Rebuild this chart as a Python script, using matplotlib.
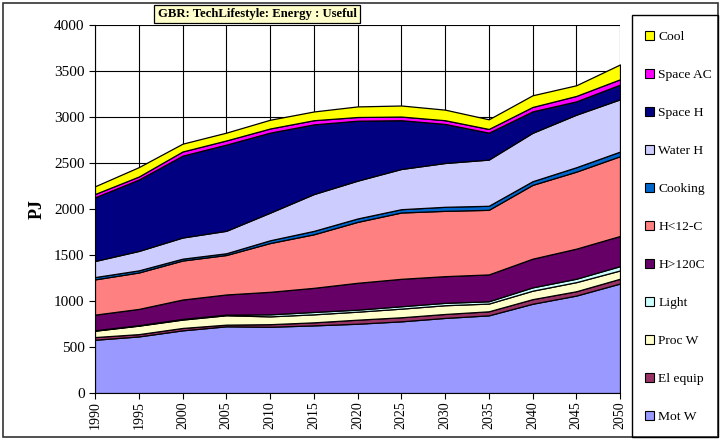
import matplotlib
matplotlib.use("Agg")
import matplotlib.pyplot as plt
from matplotlib.patches import Rectangle, Patch

years = [1990, 1995, 2000, 2005, 2010, 2015, 2020, 2025, 2030, 2035, 2040, 2045, 2050]

mot_w    = [579, 615, 681, 725, 720, 735, 753, 779, 816, 844, 970, 1059, 1190]
el_equip = [29, 25, 26, 18, 28, 33, 44, 44, 43, 44, 50, 47, 52]
proc_w   = [69, 92, 91, 102, 85, 87, 87, 94, 95, 84, 92, 99, 90]
light    = [5, 5, 7, 7, 22, 26, 22, 26, 26, 25, 36, 37, 47]
h_gt120  = [170, 177, 211, 219, 245, 262, 292, 298, 290, 292, 312, 327, 328]
h_lt12   = [383, 396, 424, 429, 530, 582, 662, 721, 710, 702, 802, 837, 867]
cooking  = [25, 23, 20, 19, 30, 37, 37, 36, 44, 44, 40, 48, 50]
water_h  = [175, 211, 230, 244, 300, 400, 411, 437, 476, 502, 526, 571, 568]
space_h  = [692, 776, 890, 937, 870, 758, 652, 530, 425, 293, 233, 145, 160]
space_ac = [36, 33, 45, 45, 45, 45, 40, 40, 40, 40, 48, 59, 58]
cool     = [84, 102, 85, 85, 95, 95, 115, 120, 115, 105, 127, 116, 161]

labels = ["Mot W", "El equip", "Proc W", "Light", "H>120C", "H<12-C",
          "Cooking", "Water H", "Space H", "Space AC", "Cool"]
series = [mot_w, el_equip, proc_w, light, h_gt120, h_lt12,
          cooking, water_h, space_h, space_ac, cool]
colors = ["#9999FF", "#993366", "#FFFFCC", "#CCFFFF", "#660066", "#FF8080",
          "#0066CC", "#CCCCFF", "#000080", "#FF00FF", "#FFFF00"]

plt.rcParams['font.family'] = ['Liberation Serif', 'DejaVu Serif']

W, H = 721, 440
fig = plt.figure(figsize=(W / 100, H / 100), dpi=100)

ax = fig.add_axes([95 / W, 1 - 393 / H, (620 - 95) / W, (393 - 25) / H])
ax.stackplot(years, *series, colors=colors, edgecolor="black", linewidth=0.9, zorder=3)
ax.set_xlim(1990, 2050)
ax.set_ylim(0, 4000)
ax.set_xticks(years)
ax.set_xticklabels([str(y) for y in years], rotation=90, fontsize=10)
ax.set_yticks(range(0, 4001, 500))
ax.tick_params(axis='y', labelsize=11, direction='out', length=4)
ax.tick_params(axis='x', direction='out', length=4, pad=2)
ax.grid(True, color="black", linewidth=0.8, zorder=1)
ax.set_axisbelow(True)
for s in ["top", "right"]:
    ax.spines[s].set_visible(False)
ax.set_ylabel("PJ", fontsize=13, fontweight="bold", labelpad=6)

# Title box
fig.text(257 / W, 1 - 14 / H, "GBR: TechLifestyle: Energy : Useful", ha="center", va="center",
         fontsize=9.2, fontweight="bold",
         bbox=dict(boxstyle="square,pad=0.25", facecolor="#FFFFCC", edgecolor="black", linewidth=0.9))

# Outer border
fig.patches.append(Rectangle((3 / W, 1 - 437 / H), 715 / W, 434 / H, transform=fig.transFigure,
                             fill=False, edgecolor="#333333", linewidth=1.2))
# Legend box
fig.patches.append(Rectangle((632 / W, 1 - 437 / H), 86 / W, 422 / H, transform=fig.transFigure,
                             fill=False, edgecolor="black", linewidth=1.0))

handles = [Patch(facecolor=c, edgecolor="black", linewidth=0.8) for c in colors][::-1]
fig.legend(handles, labels[::-1], loc="upper left", bbox_to_anchor=(638 / W, 1 - 24 / H),
           frameon=False, fontsize=9.7, handlelength=0.7, handleheight=0.7,
           handletextpad=0.3, labelspacing=1.9, borderpad=0)

fig.savefig("out.png", dpi=100)
